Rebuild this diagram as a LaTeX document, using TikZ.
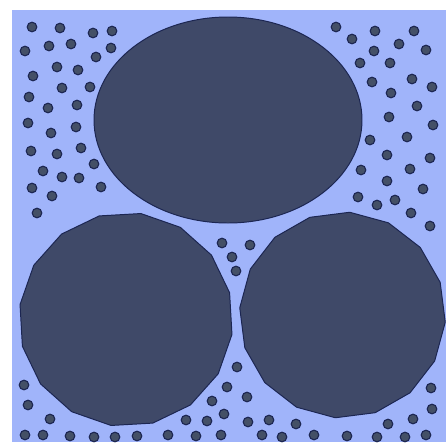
\documentclass[tikz,border=0pt]{standalone}
\usepackage{tikz}

\definecolor{matrixblue}{RGB}{160,180,250}
\definecolor{fibreslate}{RGB}{63,73,104}
\definecolor{fibreedge}{RGB}{28,38,82}
\definecolor{particlefill}{RGB}{68,80,102}

\begin{document}
\begin{tikzpicture}[
  x=0.025cm, y=-0.025cm,
  matrixbox/.style={fill=matrixblue, draw=none},
  fibre/.style={fill=fibreslate, draw=fibreedge, line width=0.7pt, line join=round},
  particle/.style={fill=particlefill, draw=fibreedge, line width=0.8pt}
]
\useasboundingbox (0,0) rectangle (446,442);

% Matrix
\fill[white] (0,0) rectangle (446,442);
\path[matrixbox] (12,10) rectangle (446,442);

% Large fibres
\draw[fibre] (228,120) ellipse [x radius=134, y radius=103];
\begin{scope}[shift={(126,319.5)}]
  \draw[fibre] (8:107) \foreach \a in {30.5,53,...,345.5} {-- (\a:107)} -- cycle;
\end{scope}
\begin{scope}[shift={(342.5,315)}]
  \draw[fibre] (4:103) \foreach \a in {26.5,49,...,341.5} {-- (\a:103)} -- cycle;
\end{scope}

% Small particles
\foreach \p in {
  % top left
  (32,27),(60,28),(93,33),(112,31),(25,51),(49,46),(71,44),(96,57),(111,48),
  (33,76),(57,67),(78,70),(29,97),(62,88),(90,87),(48,108),(77,105),
  (28,123),(51,133),(76,127),(31,151),(57,154),(81,148),
  (43,171),(62,177),(79,178),(94,164),(32,188),(52,196),(101,187),(37,213),
  % top right
  (336,27),(352,39),(375,31),(414,31),(399,44),(426,50),(374,51),
  (360,63),(390,63),(372,82),(412,79),(432,87),(391,93),(417,106),
  (389,117),(433,125),(370,140),(407,137),(387,155),(430,158),
  (361,170),(410,169),(387,181),(423,189),(358,197),(377,205),(395,200),
  (411,213),(430,226),
  % middle
  (222,243),(250,245),(232,257),(236,271),(237,367),(227,387),
  % bottom
  (24,385),(28,405),(50,419),(25,435),(43,435),(70,436),(94,437),(115,437),(137,436),
  (247,397),(212,401),(224,414),(186,420),(207,421),(248,422),(269,420),(296,424),
  (168,435),(196,436),(221,435),(262,435),(282,437),
  (431,388),(432,409),(413,419),(388,424),(314,435),(347,436),(377,437),(405,437),(426,435)}
  \draw[particle] \p circle [radius=4.8];

\end{tikzpicture}
\end{document}
